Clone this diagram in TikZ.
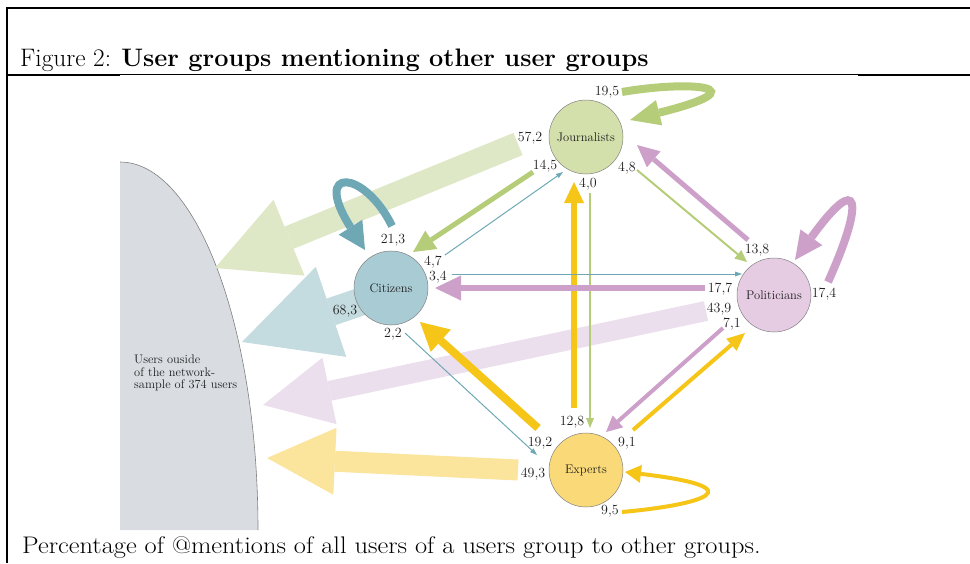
\documentclass[tikz,border=0pt]{standalone}
\usepackage{fontspec}
\usetikzlibrary{arrows.meta}
\definecolor{jfill}{HTML}{D4E0AC}
\definecolor{cfill}{HTML}{A9CBD3}
\definecolor{pfill}{HTML}{E6CCE3}
\definecolor{efill}{HTML}{F9D978}
\definecolor{garr}{HTML}{B5CC78}
\definecolor{tarr}{HTML}{6EA8B5}
\definecolor{parr}{HTML}{CDA0C9}
\definecolor{yarr}{HTML}{F5C518}
\definecolor{gband}{HTML}{DFE8C6}
\definecolor{tband}{HTML}{C4DBE0}
\definecolor{pband}{HTML}{ECDFED}
\definecolor{yband}{HTML}{FBE49C}
\definecolor{outfill}{HTML}{D9DDE2}
\definecolor{txt}{HTML}{1E1E1E}
\pgfdeclarelayer{bg}
\pgfsetlayers{bg,main}
\begin{document}
\begin{tikzpicture}[x=1pt,y=-1pt,
  circ/.style={circle, draw=gray, line width=0.5pt, minimum size=74pt, inner sep=0pt, font=\fontsize{12.5}{13}\selectfont, text=txt},
  num/.style={inner sep=0pt, text height=9pt, text depth=0pt, font=\fontsize{14}{15}\selectfont, text=txt},
  ahead/.style args={#1/#2}{-{Triangle[length=#1,width=#2,line width=0pt]}},
  frame/.style={line width=#1, black}
]
\useasboundingbox (0,0) rectangle (970,563);

% nodes
\node[circ, fill=jfill] (J) at (586,137) {Journalists};
\node[circ, fill=cfill] (C) at (391,288) {Citizens};
\node[circ, fill=pfill] (P) at (774,295) {Politicians};
\node[circ, fill=efill] (E) at (586,470) {Experts};

\coordinate (tJ) at (215,268);
\coordinate (tC) at (242,342);
\coordinate (tP) at (263,405);
\coordinate (tE) at (267,458);

\begin{pgfonlayer}{bg}
  \fill[outfill] (120,530) -- (120,162) arc[start angle=90,end angle=0,x radius=138pt,y radius=368pt] -- cycle;
  \draw[gray, line width=0.6pt] (120,162) arc[start angle=90,end angle=0,x radius=138pt,y radius=368pt];
  \draw[gband, line width=24pt, ahead={80pt/82pt}] ([shift={(-68,7)}]J.center) -- (tJ);
  \draw[tband, line width=28pt, ahead={94pt/95pt}] ([shift={(-25,12)}]C.center) -- (tC);
  \draw[pband, line width=20pt, ahead={68pt/68pt}] ([shift={(-68,16)}]P.center) -- (tP);
  \draw[yband, line width=21pt, ahead={68pt/67pt}] ([shift={(-68,0)}]E.center) -- (tE);
\end{pgfonlayer}

\node[anchor=north west, inner sep=0pt, align=left, font=\fontsize{12.4}{12.5}\selectfont, text=txt] (out) at (134,355) {Users ouside\\of the network-\\sample of 374 users};

% connectors between groups
\draw[garr, line width=5pt, ahead={22pt/22pt}] ([shift={(-53,35)}]J.center) -- ([shift={(22,-36)}]C.center);
\draw[tarr, line width=1pt, ahead={7pt/5pt}] ([shift={(54,-33)}]C.center) -- ([shift={(-23,35)}]J.center);
\draw[garr, line width=2pt, ahead={12pt/11pt}] ([shift={(51,33)}]J.center) -- ([shift={(-27,-33)}]P.center);
\draw[parr, line width=5pt, ahead={22pt/21pt}] ([shift={(-26,-55)}]P.center) -- ([shift={(51,8)}]J.center);
\draw[garr, line width=1.3pt, ahead={10pt/8pt}] ([shift={(4,56)}]J.center) -- ([shift={(4,-42)}]E.center);
\draw[yarr, line width=6pt, ahead={21pt/20pt}] ([shift={(-12,-62)}]E.center) -- ([shift={(-12,45)}]J.center);
\draw[tarr, line width=1pt, ahead={7pt/5pt}] ([shift={(61,-14)}]C.center) -- ([shift={(-32,-21)}]P.center);
\draw[parr, line width=6pt, ahead={26pt/25pt}] ([shift={(-69,-7)}]P.center) -- ([shift={(44,0)}]C.center);
\draw[tarr, line width=1pt, ahead={7pt/5pt}] ([shift={(14,45)}]C.center) -- ([shift={(-49,-15)}]E.center);
\draw[yarr, line width=8pt, ahead={28pt/30pt}] ([shift={(-48,-42)}]E.center) -- ([shift={(29,34)}]C.center);
\draw[parr, line width=4pt, ahead={16pt/16pt}] ([shift={(-51,33)}]P.center) -- ([shift={(20,-38)}]E.center);
\draw[yarr, line width=4pt, ahead={18pt/16pt}] ([shift={(47,-40)}]E.center) -- ([shift={(-29,38)}]P.center);

% self loops
\draw[garr, line width=8pt, ahead={30pt/26pt}] ([shift={(36,-45)}]J.center) .. controls ([shift={(106,-57)}]J.center) and ([shift={(176,-50)}]J.center) .. ([shift={(44,-17)}]J.center);
\draw[tarr, line width=8pt, ahead={27pt/28pt}] ([shift={(1,-62)}]C.center) .. controls ([shift={(-26,-118)}]C.center) and ([shift={(-80,-123)}]C.center) .. ([shift={(-26,-38)}]C.center);
\draw[parr, line width=8pt, ahead={28pt/27pt}] ([shift={(54,-13)}]P.center) .. controls ([shift={(91,-95)}]P.center) and ([shift={(86,-125)}]P.center) .. ([shift={(21,-35)}]P.center);
\draw[yarr, line width=4pt, ahead={16pt/18pt}] ([shift={(36,42)}]E.center) .. controls ([shift={(114,35)}]E.center) and ([shift={(174,18)}]E.center) .. ([shift={(39,2)}]E.center);

% labels
\node[num] (l1) at ([shift={(21,-46)}]J.center) {19,5};
\node[num] (l2) at ([shift={(-56,0)}]J.center) {57,2};
\node[num] (l3) at ([shift={(-41,28)}]J.center) {14,5};
\node[num] (l4) at ([shift={(2,46)}]J.center) {4,0};
\node[num] (l5) at ([shift={(41,30)}]J.center) {4,8};
\node[num] (l6) at ([shift={(2,-49)}]C.center) {21,3};
\node[num] (l7) at ([shift={(42,-27)}]C.center) {4,7};
\node[num] (l8) at ([shift={(47,-12)}]C.center) {3,4};
\node[num] (l9) at ([shift={(-46,22)}]C.center) {68,3};
\node[num] (l10) at ([shift={(2,45)}]C.center) {2,2};
\node[num] (l11) at ([shift={(-17,-46)}]P.center) {13,8};
\node[num] (l12) at ([shift={(-54,-7)}]P.center) {17,7};
\node[num] (l13) at ([shift={(-55,13)}]P.center) {43,9};
\node[num] (l14) at ([shift={(-42,28)}]P.center) {7,1};
\node[num] (l15) at ([shift={(50,-2)}]P.center) {17,4};
\node[num] (l16) at ([shift={(-14,-49)}]E.center) {12,8};
\node[num] (l17) at ([shift={(41,-28)}]E.center) {9,1};
\node[num] (l18) at ([shift={(-46,-28)}]E.center) {19,2};
\node[num] (l19) at ([shift={(-53,3)}]E.center) {49,3};
\node[num] (l20) at ([shift={(24,40)}]E.center) {9,5};

% frame, title, caption
\draw[frame=2pt] (6,8) -- (970,8);
\draw[frame=1.8pt] (7,7) -- (7,563);
\draw[frame=0.9pt] (7,74.5) -- (970,74.5);
\draw[frame=1.6pt] (7,74.8) -- (120,74.8);
\draw[frame=1.6pt] (858,74.8) -- (970,74.8);
\node[anchor=base west, inner sep=0pt, font=\fontsize{25.3}{28}\selectfont] (title) at (20,66) {Figure 2: \textbf{User groups mentioning other user groups}};
\node[anchor=base west, inner sep=0pt, font=\fontsize{24}{26}\selectfont] (cap) at (22,553) {\scalebox{1.1}[1]{Percentage of @mentions of all users of a users group to other groups.}};
\end{tikzpicture}
\end{document}
